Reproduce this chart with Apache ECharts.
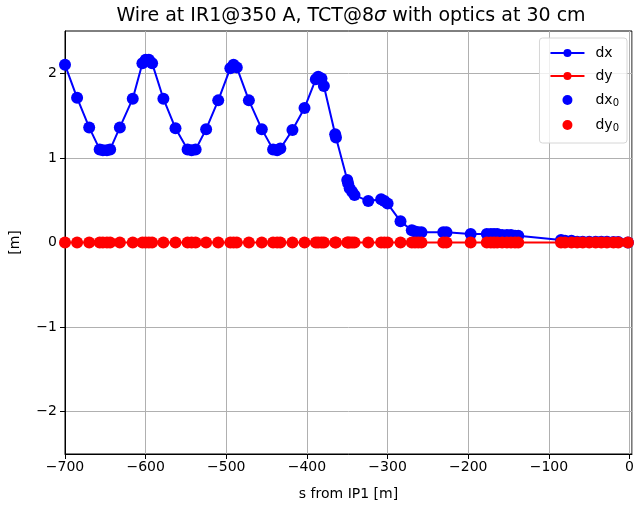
<!DOCTYPE html>
<html>
<head>
<meta charset="utf-8">
<script src="https://cdn.jsdelivr.net/npm/echarts@6/dist/echarts.min.js"></script>
<style>
  html, body { margin: 0; padding: 0; background: #fff; }
  #chart { width: 637px; height: 506px; }
</style>
</head>
<body>
<div id="chart"></div>
<script>
// s position along the beam line [m]
const s = [
  -700, -685, -670, -657, -653, -648, -644, -632, -616, -604,
  -600, -596, -592, -578, -563, -548, -543, -538, -525, -510,
  -495, -491, -487, -472, -456, -442, -437, -433, -418, -403,
  -389, -386, -382, -379, -365, -364, -350, -349, -347, -344,
  -341, -324, -308, -304, -300, -284, -270, -266, -262, -258,
  -231, -227, -197, -177, -172, -168, -164, -158, -152, -147,
  -142, -138, -85, -80, -72, -65, -58, -50, -42, -35,
  -28, -20, -14, -2
]
// horizontal offset [m]
const dx = [
  2.10, 1.71, 1.36, 1.10, 1.09, 1.09, 1.10, 1.36, 1.70, 2.12,
  2.16, 2.16, 2.12, 1.70, 1.35, 1.10, 1.09, 1.10, 1.34, 1.68,
  2.06, 2.10, 2.07, 1.68, 1.34, 1.10, 1.09, 1.11, 1.33, 1.59,
  1.93, 1.96, 1.94, 1.85, 1.28, 1.24, 0.74, 0.70, 0.64, 0.60,
  0.56, 0.49, 0.51, 0.49, 0.46, 0.25, 0.145, 0.13, 0.12, 0.12,
  0.12, 0.12, 0.10, 0.10, 0.10, 0.10, 0.10, 0.09, 0.09, 0.09,
  0.08, 0.08, 0.03, 0.02, 0.02, 0.01, 0.01, 0.01, 0.01, 0.01,
  0.01, 0.005, 0.005, 0
]
// vertical offset [m]
const dy = [
  0, 0, 0, 0, 0, 0, 0, 0, 0, 0,
  0, 0, 0, 0, 0, 0, 0, 0, 0, 0,
  0, 0, 0, 0, 0, 0, 0, 0, 0, 0,
  0, 0, 0, 0, 0, 0, 0, 0, 0, 0,
  0, 0, 0, 0, 0, 0, 0, 0, 0, 0,
  0, 0, 0, 0, 0, 0, 0, 0, 0, 0,
  0, 0, 0, 0, 0, 0, 0, 0, 0, 0,
  0, 0, 0, 0
]
const yTicks = [-2, -1, 0, 1, 2]

const font = 'DejaVu Sans'
const blue = '#0000ff'
const red = '#ff0000'
const gridColor = '#b0b0b0'

const dxData = s.map((v, i) => [v, dx[i]])
const dyData = s.map((v, i) => [v, dy[i]])

const myChart = echarts.init(document.getElementById('chart'), null, { renderer: 'canvas' })

// matplotlib style minus sign
const fmt = v => (v < 0 ? '\u2212' + Math.abs(v) : String(v))

myChart.setOption({
  animation: false,
  backgroundColor: '#fff',
  textStyle: { fontFamily: font },
  title: {
    text: 'Wire at IR1@350 A, TCT@8{i|σ} with optics at 30 cm',
    left: 346,
    top: 2,
    textAlign: 'center',
    textStyle: {
      fontFamily: font,
      fontSize: 19,
      fontWeight: 'normal',
      color: '#000',
      rich: {
        i: { fontFamily: font, fontSize: 19, fontStyle: 'italic', color: '#000' }
      }
    }
  },
  legend: {
    orient: 'vertical',
    right: 10,
    top: 38,
    itemWidth: 34,
    itemHeight: 10,
    itemGap: 9,
    padding: [8, 8, 10, 10],
    borderColor: '#d6d6d6',
    borderWidth: 1,
    borderRadius: 3,
    backgroundColor: 'rgba(255,255,255,0.8)',
    data: ['dx', 'dy', 'dx0', 'dy0'],
    textStyle: {
      fontFamily: font,
      fontSize: 14,
      color: '#000',
      rich: {
        b: { fontFamily: font, fontSize: 14, lineHeight: 16, color: '#000', padding: [0, 0, 0, 6] },
        sub: { fontFamily: font, fontSize: 10, lineHeight: 10, color: '#000', padding: [6, 0, 0, 0] }
      }
    },
    formatter: function (name) {
      if (name === 'dx0') return '{b|dx}{sub|0}'
      if (name === 'dy0') return '{b|dy}{sub|0}'
      return '{b|' + name + '}'
    }
  },
  grid: {
    left: 64,
    right: 1,
    top: 31,
    bottom: 48,
    show: true,
    borderColor: '#000',
    borderWidth: 1,
    backgroundColor: 'transparent'
  },
  xAxis: {
    type: 'value',
    min: -700,
    max: 3,
    interval: 100,
    name: 's from IP1 [m]',
    nameLocation: 'middle',
    nameGap: 33,
    nameTextStyle: { fontFamily: font, fontSize: 14, color: '#000' },
    axisLine: { onZero: false, lineStyle: { color: '#000', width: 1 } },
    axisTick: { show: true, inside: false, length: 5, lineStyle: { color: '#000' } },
    axisLabel: {
      fontFamily: font, fontSize: 14, color: '#000', margin: 6,
      showMaxLabel: false,
      formatter: fmt
    },
    splitLine: { show: true, lineStyle: { color: gridColor, width: 1 } }
  },
  yAxis: {
    type: 'value',
    min: -2.5,
    max: 2.5,
    name: '[m]',
    nameLocation: 'middle',
    nameGap: 43,
    nameTextStyle: { fontFamily: font, fontSize: 14, color: '#000' },
    axisLine: { onZero: false, lineStyle: { color: '#000', width: 1 } },
    axisTick: { show: true, inside: false, length: 5, customValues: yTicks, lineStyle: { color: '#000' } },
    axisLabel: {
      fontFamily: font, fontSize: 14, color: '#000', margin: 8,
      customValues: yTicks,
      formatter: fmt
    },
    splitLine: { show: true, customValues: yTicks, lineStyle: { color: gridColor, width: 1 } }
  },
  series: [
    {
      name: 'dx',
      type: 'line',
      data: dxData,
      color: blue,
      symbol: 'circle',
      symbolSize: 6,
      showSymbol: true,
      lineStyle: { color: blue, width: 2 },
      itemStyle: { color: blue, opacity: 1 },
      z: 2
    },
    {
      name: 'dy',
      type: 'line',
      data: dyData,
      color: red,
      symbol: 'circle',
      symbolSize: 6,
      showSymbol: true,
      lineStyle: { color: red, width: 2 },
      itemStyle: { color: red, opacity: 1 },
      z: 3
    },
    {
      name: 'dx0',
      type: 'scatter',
      data: dxData,
      color: blue,
      symbol: 'circle',
      symbolSize: 12,
      itemStyle: { color: blue, opacity: 1, borderWidth: 0 },
      z: 4
    },
    {
      name: 'dy0',
      type: 'scatter',
      data: dyData,
      color: red,
      symbol: 'circle',
      symbolSize: 12,
      itemStyle: { color: red, opacity: 1, borderWidth: 0 },
      z: 5
    }
  ]
})
</script>
</body>
</html>
